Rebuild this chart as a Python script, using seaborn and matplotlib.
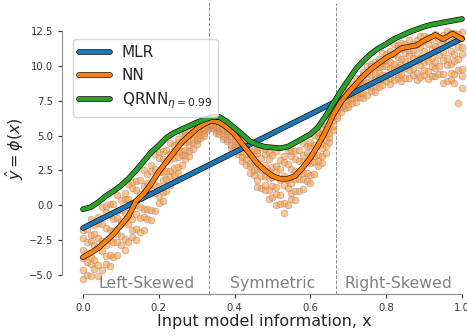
import numpy as np
import pandas as pd
import seaborn as sns
import matplotlib.pyplot as plt
import matplotlib.patheffects as pe

# Scatter cloud (x position, y values)
cloud_x = [0.00, 0.01, 0.02, 0.03, 0.04, 0.05, 0.06, 0.07, 0.08, 0.09,
           0.10, 0.11, 0.12, 0.13, 0.14, 0.15, 0.16, 0.17, 0.18, 0.19,
           0.20, 0.21, 0.22, 0.23, 0.24, 0.25, 0.26, 0.27, 0.28, 0.29,
           0.30, 0.31, 0.32, 0.33, 0.34, 0.35, 0.36, 0.37, 0.38, 0.39,
           0.40, 0.41, 0.42, 0.43, 0.44, 0.45, 0.46, 0.47, 0.48, 0.49,
           0.50, 0.51, 0.52, 0.53, 0.54, 0.55, 0.56, 0.57, 0.58, 0.59,
           0.60, 0.61, 0.62, 0.63, 0.64, 0.65, 0.66, 0.67, 0.68, 0.69,
           0.70, 0.71, 0.72, 0.73, 0.74, 0.75, 0.76, 0.77, 0.78, 0.79,
           0.80, 0.81, 0.82, 0.83, 0.84, 0.85, 0.86, 0.87, 0.88, 0.89,
           0.90, 0.91, 0.92, 0.93, 0.94, 0.95, 0.96, 0.97, 0.98, 0.99, 1.00]
cloud_y = [
    [-5.32, -4.66, -3.80, -3.26, -2.36, -1.77],
    [-5.02, -4.10, -3.43, -2.63, -1.70],
    [-5.08, -4.24, -3.72, -2.62, -2.13, -1.03],
    [-4.62, -3.94, -2.86, -2.10, -1.42],
    [-5.10, -4.30, -3.03, -2.37, -1.29, -0.87],
    [-4.66, -3.29, -2.60, -1.33, -0.15],
    [-4.25, -3.70, -2.85, -1.65, -0.50, -0.05],
    [-4.40, -3.57, -2.49, -1.81, -0.68, 0.06],
    [-3.76, -2.68, -1.90, -0.97, 0.11],
    [-3.57, -2.67, -2.11, -0.93, -0.42, 0.76],
    [-2.90, -2.21, -1.11, -0.33, 0.36],
    [-3.20, -2.44, -1.22, -0.59, 0.45, 0.85],
    [-2.68, -1.39, -0.75, 0.45, 1.55],
    [-2.28, -1.77, -0.97, 0.16, 1.24, 1.67],
    [-2.51, -1.71, -0.67, -0.02, 1.07, 1.77],
    [-1.97, -0.91, -0.14, 0.77, 1.82],
    [-1.77, -0.87, -0.31, 0.87, 1.38, 2.56],
    [-1.00, -0.31, 0.79, 1.57, 2.26],
    [-1.10, -0.35, 0.84, 1.45, 2.46, 2.86],
    [-0.39, 0.84, 1.46, 2.60, 3.66],
    [0.17, 0.65, 1.38, 2.41, 3.40, 3.79],
    [0.28, 0.96, 1.84, 2.40, 3.32, 3.92],
    [1.03, 1.85, 2.44, 3.14, 3.96],
    [1.47, 2.09, 2.49, 3.31, 3.68, 4.50],
    [2.19, 2.64, 3.36, 3.87, 4.32],
    [2.30, 2.76, 3.49, 3.87, 4.49, 4.73],
    [2.88, 3.58, 3.93, 4.58, 5.18],
    [3.35, 3.61, 4.00, 4.55, 5.08, 5.29],
    [3.54, 3.88, 4.32, 4.60, 5.06, 5.36],
    [4.06, 4.46, 4.75, 5.09, 5.48],
    [4.38, 4.66, 4.84, 5.22, 5.38, 5.76],
    [4.86, 5.04, 5.32, 5.53, 5.71],
    [5.00, 5.17, 5.44, 5.58, 5.81, 5.90],
    [5.45, 5.65, 5.74, 5.93, 6.09],
    [5.58, 5.65, 5.77, 5.94, 6.10, 6.17],
    [5.22, 5.39, 5.61, 5.75, 5.98, 6.13],
    [5.10, 5.34, 5.52, 5.73, 5.97],
    [4.77, 5.01, 5.17, 5.49, 5.64, 5.96],
    [4.58, 4.79, 5.13, 5.37, 5.58],
    [4.10, 4.36, 4.76, 4.97, 5.32, 5.45],
    [4.01, 4.43, 4.64, 5.03, 5.39],
    [3.69, 3.87, 4.16, 4.57, 4.96, 5.12],
    [3.14, 3.46, 3.88, 4.15, 4.58, 4.87],
    [2.89, 3.35, 3.69, 4.09, 4.55],
    [2.32, 2.78, 3.06, 3.66, 3.93, 4.53],
    [2.14, 2.53, 3.15, 3.59, 3.98],
    [1.30, 1.81, 2.62, 3.04, 3.73, 4.00],
    [1.22, 2.12, 2.57, 3.40, 4.17],
    [1.09, 1.47, 2.07, 2.91, 3.71, 4.03],
    [0.47, 1.10, 1.92, 2.44, 3.29, 3.84],
    [0.55, 1.41, 2.03, 2.77, 3.63],
    [0.01, 0.81, 1.31, 2.36, 2.82, 3.87],
    [0.09, 0.76, 1.84, 2.61, 3.28],
    [-0.60, 0.18, 1.42, 2.07, 3.13, 3.54],
    [0.00, 1.21, 1.81, 2.93, 3.96],
    [0.45, 0.90, 1.60, 2.58, 3.53, 3.90],
    [0.38, 1.04, 1.90, 2.45, 3.34, 3.93],
    [1.03, 1.85, 2.44, 3.14, 3.96],
    [1.18, 1.86, 2.30, 3.20, 3.59, 4.49],
    [1.76, 2.28, 3.12, 3.72, 4.24],
    [1.60, 2.16, 3.05, 3.51, 4.27, 4.57],
    [2.22, 3.09, 3.52, 4.33, 5.07],
    [2.82, 3.14, 3.63, 4.33, 5.00, 5.26],
    [3.05, 3.51, 4.11, 4.49, 5.11, 5.51],
    [3.73, 4.28, 4.68, 5.15, 5.70],
    [4.51, 4.90, 5.16, 5.68, 5.91, 6.44],
    [5.43, 5.70, 6.14, 6.44, 6.71],
    [6.30, 6.50, 6.83, 7.00, 7.27, 7.38],
    [6.69, 7.06, 7.24, 7.58, 7.89],
    [6.97, 7.13, 7.39, 7.75, 8.09, 8.23],
    [7.03, 7.30, 7.66, 7.88, 8.25, 8.49],
    [7.35, 7.73, 8.00, 8.32, 8.70],
    [7.40, 7.76, 7.98, 8.46, 8.67, 9.14],
    [7.76, 8.06, 8.54, 8.88, 9.18],
    [7.70, 8.06, 8.62, 8.92, 9.40, 9.59],
    [7.95, 8.57, 8.88, 9.45, 9.98],
    [8.25, 8.51, 8.90, 9.45, 9.98, 10.19],
    [8.15, 8.56, 9.08, 9.42, 9.97, 10.33],
    [8.53, 9.08, 9.48, 9.95, 10.50],
    [8.63, 9.10, 9.40, 10.03, 10.30, 10.93],
    [8.95, 9.36, 10.00, 10.46, 10.87],
    [8.70, 9.16, 9.89, 10.27, 10.89, 11.13],
    [9.00, 9.78, 10.17, 10.90, 11.57],
    [9.12, 9.44, 9.93, 10.63, 11.29, 11.56],
    [8.96, 9.47, 10.13, 10.55, 11.24, 11.69],
    [9.18, 9.86, 10.36, 10.95, 11.63],
    [9.15, 9.72, 10.08, 10.83, 11.16, 11.91],
    [9.40, 9.87, 10.61, 11.14, 11.60],
    [9.00, 9.54, 10.41, 10.86, 11.59, 11.88],
    [9.22, 10.12, 10.57, 11.40, 12.17],
    [9.36, 9.73, 10.29, 11.08, 11.84, 12.14],
    [9.07, 9.63, 10.35, 10.82, 11.57, 12.07],
    [9.31, 10.05, 10.60, 11.24, 11.99],
    [9.27, 9.89, 10.29, 11.11, 11.48, 12.30],
    [9.46, 9.98, 10.82, 11.42, 11.94],
    [8.80, 9.45, 10.47, 11.00, 11.88, 12.22],
    [8.97, 10.07, 10.61, 11.63, 12.56],
    [9.04, 9.48, 10.16, 11.12, 12.04, 12.40],
    [8.78, 9.46, 10.34, 10.90, 11.82, 12.42],
    [7.35, 9.75, 10.55, 11.40, 12.30],
    [8.42, 9.26, 9.78, 10.88, 11.37, 12.47],
]

# MLR fit (straight line)
mlr_x = [0.0, 1.0]
mlr_y = [-1.65, 12.0]

# NN fit
nn_x = [0.00, 0.02, 0.04, 0.06, 0.08, 0.10, 0.12, 0.14, 0.16, 0.18,
        0.20, 0.22, 0.24, 0.26, 0.28, 0.30, 0.32, 0.34, 0.36, 0.38,
        0.40, 0.42, 0.44, 0.46, 0.48, 0.50, 0.52, 0.54, 0.56, 0.58,
        0.60, 0.62, 0.64, 0.66, 0.68, 0.70, 0.72, 0.74, 0.76, 0.78,
        0.80, 0.82, 0.84, 0.86, 0.88, 0.90, 0.93, 0.95, 0.975, 1.00]
nn_y = [-3.75, -3.45, -3.1, -2.6, -2.1, -1.45, -0.8, 0.3, 0.8, 1.55,
        2.4, 3.1, 3.8, 4.5, 5.0, 5.5, 5.85, 6.1, 5.95, 5.6,
        5.1, 4.4, 3.7, 3.0, 2.5, 2.1, 1.9, 1.9, 2.1, 2.7,
        3.4, 4.3, 5.3, 6.5, 7.4, 8.1, 8.7, 9.3, 9.8, 10.2,
        10.6, 10.9, 11.3, 11.4, 11.5, 11.85, 12.25, 11.95, 12.35, 11.95]

# QRNN (eta = 0.99) fit
qr_x = [0.00, 0.02, 0.04, 0.06, 0.08, 0.10, 0.12, 0.14, 0.16, 0.18,
        0.20, 0.22, 0.24, 0.26, 0.28, 0.30, 0.32, 0.34, 0.36, 0.38,
        0.40, 0.42, 0.44, 0.46, 0.48, 0.50, 0.52, 0.54, 0.56, 0.58,
        0.60, 0.62, 0.64, 0.66, 0.68, 0.70, 0.72, 0.74, 0.76, 0.78,
        0.80, 0.82, 0.84, 0.86, 0.88, 0.90, 0.92, 0.94, 0.96, 0.98, 1.00]
qr_y = [-0.3, -0.15, 0.2, 0.65, 1.0, 1.4, 1.9, 2.5, 3.15, 3.8,
        4.3, 4.85, 5.2, 5.45, 5.7, 5.95, 6.15, 6.35, 6.35, 6.0,
        5.55, 5.1, 4.6, 4.35, 4.2, 4.15, 4.1, 4.2, 4.5, 4.8,
        5.1, 5.6, 6.4, 7.3, 8.2, 9.0, 9.8, 10.4, 10.9, 11.3,
        11.6, 11.95, 12.2, 12.45, 12.65, 12.85, 13.0, 13.1, 13.2, 13.3, 13.4]

regions = ['Left-Skewed', 'Symmetric', 'Right-Skewed']
region_centers = [1 / 6, 0.5, 5 / 6]
region_edges = [1 / 3, 2 / 3]

sns.set_style('ticks')
plt.rcParams['font.family'] = ['DejaVu Sans']

cloud = pd.DataFrame({
    'x': [x for x, ys in zip(cloud_x, cloud_y) for _ in ys],
    'y': [y for ys in cloud_y for y in ys],
})

fig = plt.figure(figsize=(4.67, 3.36), dpi=100)
ax = fig.add_axes([0.1328, 0.125, 0.8672, 0.866])

sns.scatterplot(data=cloud, x='x', y='y', ax=ax, color='#ff9f40', alpha=0.6,
                edgecolor='#8c7a8c', linewidth=0.45, s=24, zorder=1,
                clip_on=False)

outline = [pe.Stroke(linewidth=4.0, foreground='black'), pe.Normal()]
for xs, ys, col, lab in [(mlr_x, mlr_y, 'C0', 'MLR'),
                         (nn_x, nn_y, 'C1', 'NN'),
                         (qr_x, qr_y, 'C2', r'QRNN$_{\eta=0.99}$')]:
    sns.lineplot(x=xs, y=ys, ax=ax, color=col, linewidth=3.1, label=lab,
                 estimator=None, sort=False, zorder=3,
                 path_effects=outline, solid_capstyle='round')

for xe in region_edges:
    ax.axvline(xe, color='0.55', linestyle='--', linewidth=0.7, zorder=0)

for name, xc in zip(regions, region_centers):
    ax.text(xc, -5.95, name, ha='center', va='baseline', fontsize=11.3,
            color='0.5')

ax.set_xlim(-0.0553, 1.0132)
ax.set_ylim(-6.4, 14.55)
ax.set_xticks([0.0, 0.2, 0.4, 0.6, 0.8, 1.0])
ax.set_yticks([-5.0, -2.5, 0.0, 2.5, 5.0, 7.5, 10.0, 12.5])
ax.tick_params(labelsize=7.2, colors='0.2', length=3)
ax.set_xlabel('Input model information, x', fontsize=11.5, labelpad=1)
ax.set_ylabel(r'$\hat{y} = \phi(x)$', fontsize=11.5, labelpad=2)

sns.despine(ax=ax, trim=True)
for sp in ['left', 'bottom']:
    ax.spines[sp].set_color('0.55')

leg = ax.legend(loc='upper left', bbox_to_anchor=(0.027, 0.876),
                borderaxespad=0, fontsize=11, handlelength=2.0,
                frameon=True)
for h in leg.get_lines():
    h.set_path_effects(outline)
    h.set_linewidth(3.1)

fig.savefig('out.png', dpi=100)
